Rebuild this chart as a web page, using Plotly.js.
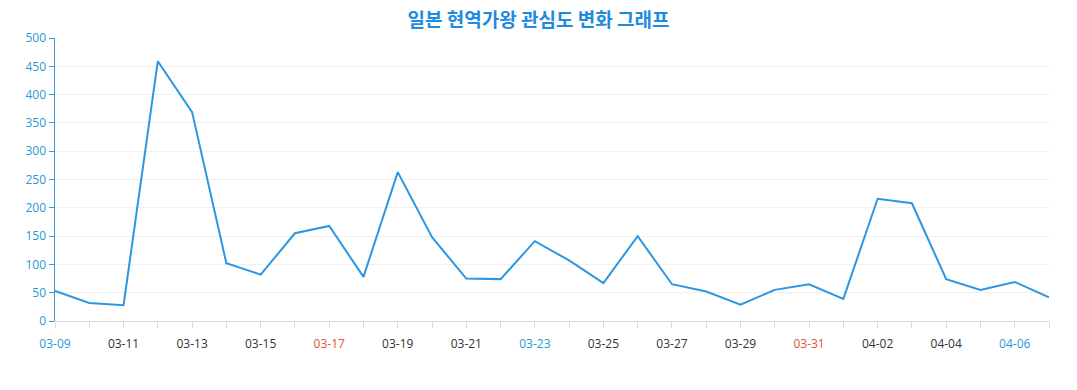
<!DOCTYPE html>
<html>
<head>
<meta charset="utf-8">
<script src="https://cdn.plot.ly/plotly-3.0.1.min.js"></script>
<style>html,body{margin:0;padding:0;background:#fff;}#chart{width:1077px;height:390px;}</style>
</head>
<body>
<div id="chart"></div>
<script>
const dates = ["03-09","03-10","03-11","03-12","03-13","03-14","03-15","03-16","03-17","03-18","03-19","03-20","03-21","03-22","03-23","03-24","03-25","03-26","03-27","03-28","03-29","03-30","03-31","04-01","04-02","04-03","04-04","04-05","04-06","04-07"];
const values = [53,32,28,459,369,102,82,155,168,78,263,148,75,74,141,107,67,150,65,52,29,55,65,39,216,208,74,55,69,42];
const blueDates = ["03-09","03-23","04-06"];
const redDates = ["03-17","03-31"];
const titleText = "일본 현역가왕 관심도 변화 그래프";

const tickText = dates.map((d, i) => {
  if (i % 2 !== 0) return "";
  let c = "#333333";
  if (blueDates.includes(d)) c = "#2a98d6";
  if (redDates.includes(d)) c = "#e0543a";
  return '<span style="color:' + c + '">' + d + '</span>';
});

const trace = {
  x: dates, y: values, type: "scatter", mode: "lines",
  line: {color: "#2b97e3", width: 2},
  hoverinfo: "x+y"
};

const layout = {
  width: 1077, height: 390,
  margin: {l: 55, r: 28, t: 38, b: 69},
  paper_bgcolor: "#fff", plot_bgcolor: "#fff",
  font: {family: "Open Sans, Noto Sans, sans-serif", size: 12, color: "#333"},
  title: {text: "<b>" + titleText + "</b>", x: 0.5, xanchor: "center", y: 0.948, yanchor: "middle",
    yref: "container",
    font: {family: "Noto Sans CJK KR, sans-serif", size: 19, color: "#1e8ae0"}},
  showlegend: false,
  xaxis: {
    type: "category", range: [0, dates.length - 1],
    tickmode: "array", tickvals: dates, ticktext: tickText,
    showgrid: false, showline: true, linecolor: "#dddddd", linewidth: 1,
    ticks: "outside", ticklen: 6, tickcolor: "#dddddd",
    ticklabelstandoff: 6,
    tickfont: {size: 12, color: "#333"}, zeroline: false, fixedrange: true
  },
  yaxis: {
    range: [0, 500], dtick: 50, tick0: 0,
    showgrid: true, gridcolor: "#f0f0f0", gridwidth: 1,
    showline: true, linecolor: "#3a9ad9", linewidth: 1.5,
    ticks: "outside", ticklen: 5, tickcolor: "#3a9ad9",
    tickfont: {size: 12, color: "#2a98d6"}, zeroline: false, fixedrange: true
  }
};

Plotly.newPlot("chart", [trace], layout, {displayModeBar: false, staticPlot: true});
</script>
</body>
</html>
